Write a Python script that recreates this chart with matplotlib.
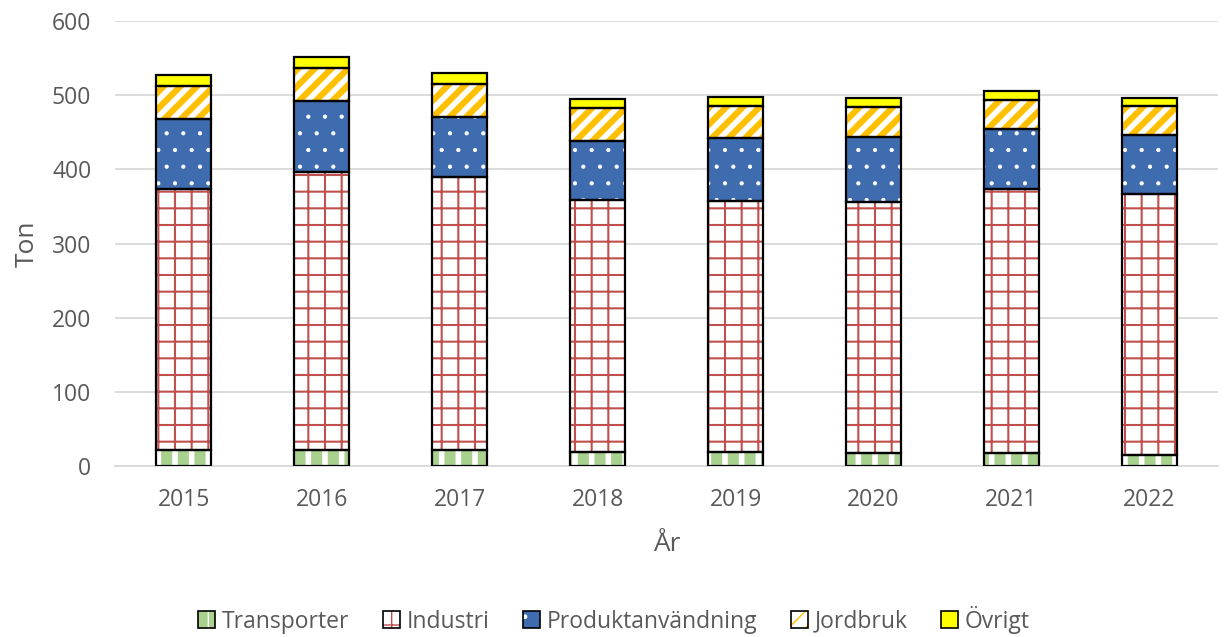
import matplotlib
matplotlib.use("Agg")
import matplotlib.pyplot as plt
import numpy as np
from matplotlib.patches import Patch
from matplotlib.legend_handler import HandlerTuple

years = ["2015", "2016", "2017", "2018", "2019", "2020", "2021", "2022"]
transporter = [21.5, 21, 21, 19, 19, 18, 17, 15]
industri = [351.5, 375, 369, 340, 338, 338, 356, 352]
produkt = [95, 96, 80, 79, 85, 87.5, 81, 79]
jordbruk = [44, 45, 45, 45, 43, 40, 39, 39]
ovrigt = [15, 14, 15, 12, 12, 13, 13, 11]

series_names = ["Transporter", "Industri", "Produktanvändning", "Jordbruk", "Övrigt"]
series = [transporter, industri, produkt, jordbruk, ovrigt]

# style: (facecolor, hatch, hatchcolor, hatch linewidth)
styles = [
    ("#A9D18E", "|", "white", 4.0),
    ("white", "+", "#C0504D", 1.5),
    ("#3F6CAF", ".", "white", 0.6),
    ("white", "//", "#FFC000", 4.5),
    ("#FFFF00", None, None, 1.0),
]

plt.rcParams['font.family'] = ['Open Sans', 'DejaVu Sans']
fig = plt.figure(figsize=(12.28, 6.37), dpi=100)
ax = fig.add_axes([0.0936, 0.2684, 0.8984, 0.6986])


def set_hlw(artist, lw):
    if hasattr(artist, "set_hatch_linewidth"):
        artist.set_hatch_linewidth(lw)


x = np.arange(len(years))
width = 0.4
bottom = np.zeros(len(years))
for vals, (fc, h, hc, hlw) in zip(series, styles):
    vals = np.array(vals, dtype=float)
    if h is not None:
        bars = ax.bar(x, vals, width, bottom=bottom, facecolor=fc, hatch=h,
                      edgecolor=hc, linewidth=0, zorder=2)
        for b in bars:
            set_hlw(b, hlw)
    else:
        ax.bar(x, vals, width, bottom=bottom, facecolor=fc, linewidth=0, zorder=2)
    ax.bar(x, vals, width, bottom=bottom, facecolor="none", edgecolor="black",
           linewidth=1.6, zorder=3)
    bottom += vals

ax.set_xlim(-0.5, len(years) - 0.5)
ax.set_ylim(0, 600)
ax.set_yticks(np.arange(0, 601, 100))
ax.set_xticks(x)
ax.set_xticklabels(years)
ax.yaxis.grid(True, color="#D9D9D9", linewidth=1.3, zorder=0)
ax.set_axisbelow(True)
for s in ["top", "right", "left"]:
    ax.spines[s].set_visible(False)
ax.spines["bottom"].set_color("#D9D9D9")
ax.spines["bottom"].set_linewidth(1.3)
ax.tick_params(axis="both", length=0, labelsize=16.5, colors="#595959")
ax.tick_params(axis="x", pad=16)
ax.tick_params(axis="y", pad=17)
ax.set_ylabel("Ton", fontsize=19, color="#595959", labelpad=9)
ax.set_xlabel("År", fontsize=19, color="#595959", labelpad=14)

handles = []
for name, (fc, h, hc, hlw) in zip(series_names, styles):
    if h is not None:
        p1 = Patch(facecolor=fc, edgecolor=hc, hatch=h, linewidth=0)
        set_hlw(p1, hlw * 0.6)
        p2 = Patch(facecolor="none", edgecolor="black", linewidth=1.2)
        handles.append((p1, p2))
    else:
        handles.append(Patch(facecolor=fc, edgecolor="black", linewidth=1.2))
leg = fig.legend(handles=handles, labels=series_names, loc="center",
                 bbox_to_anchor=(0.5, 0.027), ncol=5,
                 frameon=False, fontsize=16.5, handlelength=0.75, handleheight=0.75,
                 handletextpad=0.3, columnspacing=1.45,
                 handler_map={tuple: HandlerTuple(ndivide=1, pad=0)})
for t in leg.get_texts():
    t.set_color("#595959")

fig.savefig("out.png", dpi=100)
